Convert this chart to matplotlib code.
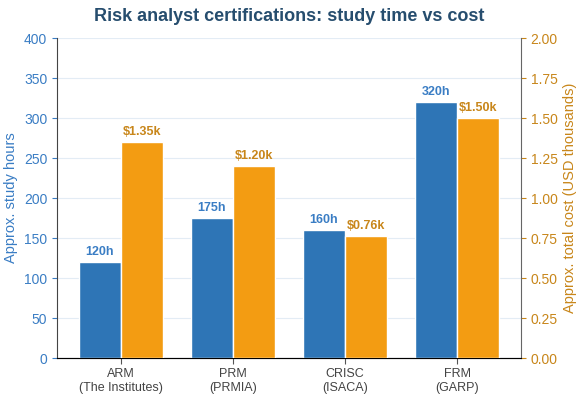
import matplotlib.pyplot as plt
import numpy as np

categories = ["ARM\n(The Institutes)", "PRM\n(PRMIA)", "CRISC\n(ISACA)", "FRM\n(GARP)"]
study_hours = [120, 175, 160, 320]
cost_k = [1.35, 1.20, 0.76, 1.50]

blue = "#2E75B6"
orange = "#F39C12"
blue_txt = "#3A7DC4"
orange_txt = "#C8861A"

plt.rcParams['font.family'] = ['Liberation Sans', 'DejaVu Sans']

fig, ax1 = plt.subplots(figsize=(5.82, 4.0), dpi=100)
plt.subplots_adjust(left=0.098, right=0.895, bottom=0.105, top=0.905)
ax2 = ax1.twinx()

x = np.arange(len(categories))
w = 0.375
b1 = ax1.bar(x - w / 2, study_hours, w, color=blue, edgecolor="white", linewidth=1, zorder=3)
b2 = ax2.bar(x + w / 2, cost_k, w, color=orange, edgecolor="white", linewidth=1, zorder=3)

for xi, v in zip(x, study_hours):
    ax1.text(xi - w / 2, v + 5, f"{v}h", ha="center", va="bottom", color=blue_txt,
             fontsize=9, fontweight="bold")
for xi, v in zip(x, cost_k):
    ax2.text(xi + w / 2, v + 0.025, f"${v:.2f}k", ha="center", va="bottom", color=orange_txt,
             fontsize=9, fontweight="bold")

ax1.set_xlim(-0.57, 3.57)
ax1.set_ylim(0, 400)
ax2.set_ylim(0, 2.0)
ax1.set_yticks(np.arange(0, 401, 50))
ax2.set_yticks(np.arange(0, 2.01, 0.25))
ax2.yaxis.set_major_formatter(plt.FormatStrFormatter("%.2f"))
ax1.set_xticks(x)
ax1.set_xticklabels(categories, fontsize=9, color="#444444")

ax1.grid(axis="y", color="#E3ECF5", linewidth=0.8, zorder=0)
ax1.set_axisbelow(True)

ax1.set_ylabel("Approx. study hours", color=blue_txt, fontsize=10.5)
ax2.set_ylabel("Approx. total cost (USD thousands)", color=orange_txt, fontsize=10.5)
ax1.tick_params(axis="y", colors=blue_txt, labelsize=10)
ax2.tick_params(axis="y", colors=orange_txt, labelsize=10)
ax1.tick_params(axis="x", length=4, color="#555555")

for ax in (ax1, ax2):
    ax.spines["top"].set_visible(False)
ax2.spines["left"].set_visible(False)
ax1.spines["left"].set_color("#444444")
ax2.spines["right"].set_color("#666666")
ax1.spines["bottom"].set_color("#666666")
ax1.spines["right"].set_visible(False)

ax1.set_title("Risk analyst certifications: study time vs cost", fontsize=13,
              fontweight="bold", color="#264D6E", pad=12)

plt.savefig("out.png", dpi=100)
